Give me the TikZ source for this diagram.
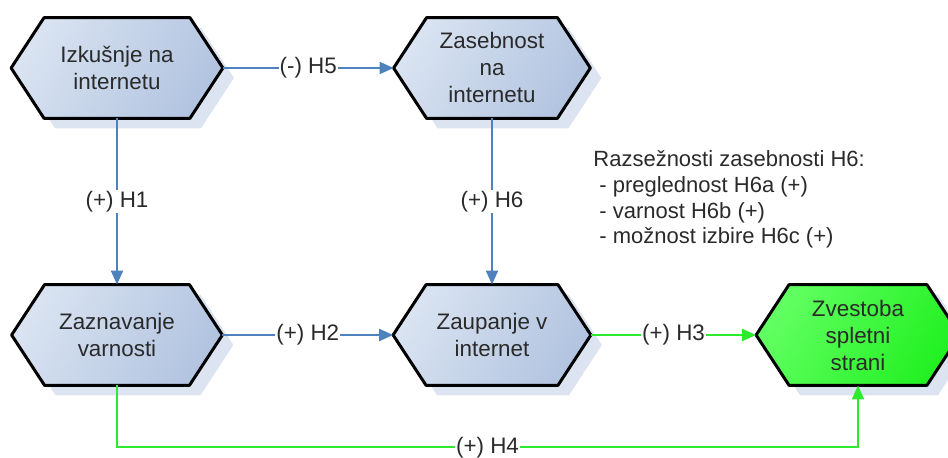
\documentclass[tikz,border=0pt]{standalone}
\usepackage{fontspec}
\setmainfont{Liberation Sans}
\usetikzlibrary{arrows.meta,backgrounds}

\definecolor{hexlight}{HTML}{D9E3F1}
\definecolor{hexdark}{HTML}{B2C4E0}
\definecolor{hexshadow}{HTML}{DCE4F1}
\definecolor{greenlight}{HTML}{62FF62}
\definecolor{greendark}{HTML}{22F022}
\definecolor{linkblue}{HTML}{4F81BD}
\definecolor{linkgreen}{HTML}{2EEA2E}
\definecolor{txtgray}{HTML}{2A2A2A}

\begin{document}
\begin{tikzpicture}[
				x=0.5pt, y=-0.5pt,
				% box for the text of one hexagon
				hexbox/.style={inner sep=0pt, minimum height=50pt, align=center,
					font=\fontsize{11.2}{13.5}\selectfont, text=txtgray},
				bluefill/.style={left color=hexlight, right color=hexdark, shading angle=60},
				greenfill/.style={left color=greenlight, right color=greendark, shading angle=60},
				bluelink/.style={-{Triangle[length=7pt,width=6pt]}, line width=1pt, draw=linkblue},
				greenlink/.style={-{Triangle[length=7pt,width=6pt]}, line width=1pt, draw=linkgreen},
				lbl/.style={fill=white, inner sep=0.5pt, font=\fontsize{11.2}{13.5}\selectfont, text=txtgray}
				]
				\useasboundingbox (0,0) rectangle (948,458);
				
				% ----- 1. Hexagon nodes -----
				\node[hexbox, minimum width=105.5pt] (izk) at (117,68) {Izkušnje na\\internetu};
				\node[hexbox, minimum width=98pt] (zas) at (492,68) {Zasebnost\\na\\internetu};
				\node[hexbox, minimum width=105pt] (zaz) at (117,335) {Zaznavanje\\varnosti};
				\node[hexbox, minimum width=98.5pt] (zau) at (492,335) {Zaupanje v\\internet};
				\node[hexbox, minimum width=101.5pt] (zve) at (858,335) {Zvestoba\\spletni\\strani};
				
				% ----- 2. Hexagon outlines and shadows -----
				\begin{scope}[on background layer]
					\foreach \n/\hexfill in {izk/bluefill, zas/bluefill, zaz/bluefill, zau/bluefill, zve/greenfill} {
						% shadow
						\fill[hexshadow, transform canvas={shift={(5.5pt,-5pt)}}]
							(\n.west) -- ([xshift=16.5pt]\n.north west) -- ([xshift=-16.5pt]\n.north east)
							-- (\n.east) -- ([xshift=-16.5pt]\n.south east) -- ([xshift=16.5pt]\n.south west) -- cycle;
						% outline
						\path[\hexfill, draw=black, line width=1.5pt, line join=round]
							(\n.west) -- ([xshift=16.5pt]\n.north west) -- ([xshift=-16.5pt]\n.north east)
							-- (\n.east) -- ([xshift=-16.5pt]\n.south east) -- ([xshift=16.5pt]\n.south west) -- cycle;
					}
				\end{scope}
				
				% ----- 3. Hypotheses -----
				\draw[bluelink] (izk.east) -- node[lbl] {(-) H5} (zas.west);
				\draw[bluelink] (izk.south) -- node[lbl] {(+) H1} (zaz.north);
				\draw[bluelink] (zas.south) -- node[lbl] {(+) H6} (zau.north);
				\draw[bluelink] (zaz.east) -- node[lbl] {(+) H2} (zau.west);
				\draw[greenlink] (zau.east) -- node[lbl] {(+) H3} (zve.west);
				\draw[greenlink] (zaz.south) -- ++(0,62) -| node[lbl, pos=0.25] {(+) H4} (zve.south);
				
				% ----- 4. Dimensions of privacy -----
				\node[anchor=north west, align=left, inner sep=0pt, text=txtgray,
					font=\fontsize{11}{12.9}\selectfont] (dims) at (593,150)
					{Razsežnosti zasebnosti H6:\\
					\hspace{3pt}- preglednost H6a (+)\\
					\hspace{3pt}- varnost H6b (+)\\
					\hspace{3pt}- možnost izbire H6c (+)};
				
			\end{tikzpicture}
\end{document}
